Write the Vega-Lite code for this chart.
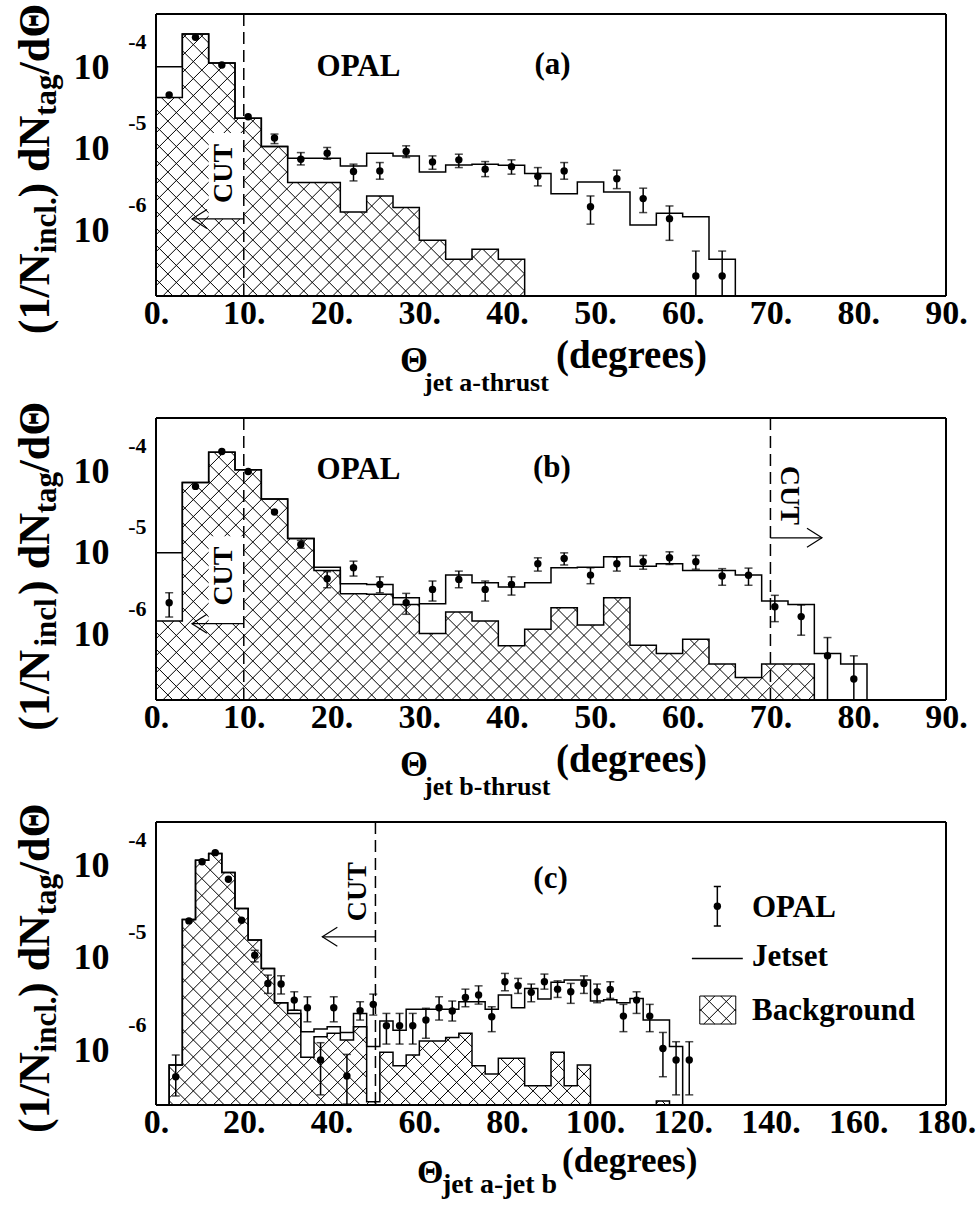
{
"$schema": "https://vega.github.io/schema/vega-lite/v6.json",
"background": "white",
"padding": {"left": 13, "top": 3, "right": 5, "bottom": 5},
"spacing": 122,
"bounds": "flush",
"datasets": {
"a_hist": [
{"edge":0,"jet":1.02e-4,"bkg":4.28e-5},{"edge":3,"jet":2.58e-4,"bkg":2.58e-4},{"edge":6,"jet":1.13e-4,"bkg":1.13e-4},{"edge":9,"jet":2.38e-5,"bkg":2.38e-5},{"edge":12,"jet":1.07e-5,"bkg":1.07e-5},{"edge":15,"jet":7.67e-6,"bkg":3.85e-6},{"edge":18,"jet":7.67e-6,"bkg":3.85e-6},{"edge":21,"jet":6.18e-6,"bkg":1.68e-6},{"edge":24,"jet":8.85e-6,"bkg":2.64e-6},{"edge":27,"jet":8.2e-6,"bkg":1.9e-6},{"edge":30,"jet":5.21e-6,"bkg":7.53e-7},{"edge":33,"jet":6.35e-6,"bkg":4.4e-7},{"edge":36,"jet":6.49e-6,"bkg":5.84e-7},{"edge":39,"jet":6.3e-6,"bkg":4.4e-7},{"edge":42,"jet":4.97e-6,"bkg":0},{"edge":45,"jet":2.82e-6,"bkg":0},{"edge":48,"jet":3.93e-6,"bkg":0},{"edge":51,"jet":2.96e-6,"bkg":0},{"edge":54,"jet":1.16e-6,"bkg":0},{"edge":57,"jet":1.62e-6,"bkg":0},{"edge":60,"jet":1.47e-6,"bkg":0},{"edge":63,"jet":4.4e-7,"bkg":0},{"edge":66,"jet":0,"bkg":0},{"edge":90,"jet":0,"bkg":0}],
"a_pts": [
{"mid":1.5,"val":4.58e-5},{"mid":4.5,"val":2.34e-4},{"mid":7.5,"val":1.07e-4},{"mid":10.5,"val":2.48e-5},{"mid":13.5,"val":1.36e-5,"lo":1.16e-5,"hi":1.52e-5},{"mid":16.5,"val":7.46e-6,"lo":6.35e-6,"hi":9.0e-6},{"mid":19.5,"val":8.85e-6,"lo":7.46e-6,"hi":1.04e-5},{"mid":22.5,"val":5.26e-6,"lo":4.04e-6,"hi":6.49e-6},{"mid":25.5,"val":5.36e-6,"lo":4.24e-6,"hi":6.79e-6},{"mid":28.5,"val":9.27e-6,"lo":7.82e-6,"hi":1.09e-5},{"mid":31.5,"val":6.92e-6,"lo":5.62e-6,"hi":8.2e-6},{"mid":34.5,"val":7.33e-6,"lo":5.89e-6,"hi":8.6e-6},{"mid":37.5,"val":5.62e-6,"lo":4.56e-6,"hi":6.98e-6},{"mid":40.5,"val":6.05e-6,"lo":4.89e-6,"hi":7.33e-6},{"mid":43.5,"val":4.61e-6,"lo":3.51e-6,"hi":5.89e-6},{"mid":46.5,"val":5.36e-6,"lo":4.24e-6,"hi":6.79e-6},{"mid":49.5,"val":1.95e-6,"lo":1.19e-6,"hi":2.64e-6},{"mid":52.5,"val":4.31e-6,"lo":3.25e-6,"hi":5.47e-6},{"mid":55.5,"val":2.45e-6,"lo":1.65e-6,"hi":3.29e-6},{"mid":58.5,"val":1.39e-6,"lo":7.53e-7,"hi":1.99e-6},{"mid":61.5,"val":2.74e-7,"lo":0,"hi":5.56e-7},{"mid":64.5,"val":2.74e-7,"lo":0,"hi":5.56e-7}],
"b_hist": [
{"edge":0,"jet":1.0e-5,"bkg":1.46e-6},{"edge":3,"jet":7.33e-5,"bkg":7.33e-5},{"edge":6,"jet":1.72e-4,"bkg":1.72e-4},{"edge":9,"jet":1.05e-4,"bkg":1.05e-4},{"edge":12,"jet":4.58e-5,"bkg":4.58e-5},{"edge":15,"jet":1.5e-5,"bkg":1.5e-5},{"edge":18,"jet":6.68e-6,"bkg":6.08e-6},{"edge":21,"jet":4.18e-6,"bkg":3.15e-6},{"edge":24,"jet":4.1e-6,"bkg":3.1e-6},{"edge":27,"jet":2.81e-6,"bkg":2.33e-6},{"edge":30,"jet":2.38e-6,"bkg":1.02e-6},{"edge":33,"jet":5.33e-6,"bkg":1.88e-6},{"edge":36,"jet":4.29e-6,"bkg":1.46e-6},{"edge":39,"jet":3.8e-6,"bkg":7.21e-7},{"edge":42,"jet":4.29e-6,"bkg":1.15e-6},{"edge":45,"jet":6.56e-6,"bkg":2.12e-6},{"edge":48,"jet":6.68e-6,"bkg":1.3e-6},{"edge":51,"jet":8.93e-6,"bkg":2.81e-6},{"edge":54,"jet":6.87e-6,"bkg":7.36e-7},{"edge":57,"jet":7.35e-6,"bkg":5.81e-7},{"edge":60,"jet":6.08e-6,"bkg":8.71e-7},{"edge":63,"jet":6.08e-6,"bkg":4.31e-7},{"edge":66,"jet":5.33e-6,"bkg":2.95e-7},{"edge":69,"jet":2.56e-6,"bkg":4.31e-7},{"edge":72,"jet":2.33e-6,"bkg":4.31e-7},{"edge":75,"jet":5.81e-7,"bkg":0},{"edge":78,"jet":4.31e-7,"bkg":0},{"edge":81,"jet":0,"bkg":0},{"edge":90,"jet":0,"bkg":0}],
"b_pts": [
{"mid":1.5,"val":2.44e-6,"lo":1.63e-6,"hi":3.24e-6},{"mid":4.5,"val":6.55e-5},{"mid":7.5,"val":1.76e-4},{"mid":10.5,"val":1.0e-4},{"mid":13.5,"val":3.18e-5},{"mid":16.5,"val":1.27e-5,"lo":1.14e-5,"hi":1.42e-5},{"mid":19.5,"val":4.81e-6,"lo":3.73e-6,"hi":5.86e-6},{"mid":22.5,"val":6.56e-6,"lo":5.19e-6,"hi":7.91e-6},{"mid":25.5,"val":4.1e-6,"lo":3.24e-6,"hi":5.08e-6},{"mid":28.5,"val":2.44e-6,"lo":1.76e-6,"hi":3.18e-6},{"mid":31.5,"val":3.56e-6,"lo":2.56e-6,"hi":4.51e-6},{"mid":34.5,"val":4.72e-6,"lo":3.73e-6,"hi":5.97e-6},{"mid":37.5,"val":3.56e-6,"lo":2.56e-6,"hi":4.51e-6},{"mid":40.5,"val":4.1e-6,"lo":3.03e-6,"hi":5.08e-6},{"mid":43.5,"val":7.35e-6,"lo":5.97e-6,"hi":8.69e-6},{"mid":46.5,"val":8.53e-6,"lo":7.1e-6,"hi":1.0e-5},{"mid":49.5,"val":5.33e-6,"lo":4.18e-6,"hi":6.56e-6},{"mid":52.5,"val":7.35e-6,"lo":5.97e-6,"hi":8.9e-6},{"mid":55.5,"val":7.77e-6,"lo":6.3e-6,"hi":9.3e-6},{"mid":58.5,"val":8.69e-6,"lo":7.2e-6,"hi":1.03e-5},{"mid":61.5,"val":7.77e-6,"lo":6.3e-6,"hi":9.3e-6},{"mid":64.5,"val":5.19e-6,"lo":4.0e-6,"hi":6.4e-6},{"mid":67.5,"val":5.3e-6,"lo":4.0e-6,"hi":6.5e-6},{"mid":70.5,"val":2.18e-6,"lo":1.43e-6,"hi":3.01e-6},{"mid":73.5,"val":1.65e-6,"lo":9.75e-7,"hi":2.29e-6},{"mid":76.5,"val":5.44e-7,"lo":0,"hi":9.12e-7},{"mid":79.5,"val":2.82e-7,"lo":0,"hi":5.44e-7}],
"c_hist": [
{"edge":0,"jet":0,"bkg":0},{"edge":3,"jet":6.89e-7,"bkg":6.89e-7},{"edge":6,"jet":2.59e-5,"bkg":2.59e-5},{"edge":9,"jet":1.13e-4,"bkg":1.13e-4},{"edge":12,"jet":1.34e-4,"bkg":1.34e-4},{"edge":15,"jet":8.34e-5,"bkg":8.34e-5},{"edge":18,"jet":3.4e-5,"bkg":3.4e-5},{"edge":21,"jet":1.55e-5,"bkg":1.55e-5},{"edge":24,"jet":7.64e-6,"bkg":7.64e-6},{"edge":27,"jet":3.25e-6,"bkg":3.25e-6},{"edge":30,"jet":2.7e-6,"bkg":2.49e-6},{"edge":33,"jet":1.58e-6,"bkg":8.34e-7},{"edge":36,"jet":1.69e-6,"bkg":1.39e-6},{"edge":39,"jet":1.79e-6,"bkg":1.52e-6},{"edge":42,"jet":1.55e-6,"bkg":1.28e-6},{"edge":45,"jet":2.49e-6,"bkg":1.79e-6},{"edge":48,"jet":1.09e-6,"bkg":2.76e-7},{"edge":51,"jet":2.06e-6,"bkg":9.44e-7},{"edge":54,"jet":1.64e-6,"bkg":6.76e-7},{"edge":57,"jet":2.77e-6,"bkg":8.83e-7},{"edge":60,"jet":2.77e-6,"bkg":1.25e-6},{"edge":63,"jet":2.77e-6,"bkg":1.25e-6},{"edge":66,"jet":2.77e-6,"bkg":1.37e-6},{"edge":69,"jet":3.33e-6,"bkg":1.52e-6},{"edge":72,"jet":3.33e-6,"bkg":6.76e-7},{"edge":75,"jet":2.77e-6,"bkg":5.5e-7},{"edge":78,"jet":3.94e-6,"bkg":8.13e-7},{"edge":81,"jet":2.87e-6,"bkg":8.13e-7},{"edge":84,"jet":4.63e-6,"bkg":4.11e-7},{"edge":87,"jet":3.56e-6,"bkg":4.11e-7},{"edge":90,"jet":5.4e-6,"bkg":9.44e-7},{"edge":93,"jet":5.71e-6,"bkg":4.11e-7},{"edge":96,"jet":5.71e-6,"bkg":6.89e-7},{"edge":99,"jet":3.39e-6,"bkg":0},{"edge":102,"jet":3.5e-6,"bkg":0},{"edge":105,"jet":3.25e-6,"bkg":0},{"edge":108,"jet":3.62e-6,"bkg":0},{"edge":111,"jet":2.11e-6,"bkg":0},{"edge":114,"jet":2.11e-6,"bkg":2.8e-7},{"edge":117,"jet":1.09e-6,"bkg":0},{"edge":120,"jet":0,"bkg":0},{"edge":180,"jet":0,"bkg":0}],
"c_pts": [
{"mid":4.5,"val":5.14e-7,"lo":3.18e-7,"hi":8.83e-7},{"mid":7.5,"val":2.5e-5},{"mid":10.5,"val":1.09e-4},{"mid":13.5,"val":1.37e-4},{"mid":16.5,"val":7.06e-5},{"mid":19.5,"val":2.54e-5},{"mid":22.5,"val":1.06e-5,"lo":9.0e-6,"hi":1.2e-5},{"mid":25.5,"val":5.26e-6,"lo":4.1e-6,"hi":6.47e-6},{"mid":28.5,"val":5.18e-6,"lo":4.03e-6,"hi":6.35e-6},{"mid":31.5,"val":3.47e-6,"lo":2.7e-6,"hi":4.27e-6},{"mid":34.5,"val":2.87e-6,"lo":2.02e-6,"hi":3.77e-6},{"mid":37.5,"val":7.8e-7,"lo":3.27e-7,"hi":1.2e-6},{"mid":40.5,"val":2.87e-6,"lo":2.02e-6,"hi":3.77e-6},{"mid":43.5,"val":5.23e-7,"lo":2.6e-7,"hi":8.97e-7},{"mid":46.5,"val":2.66e-6,"lo":2.11e-6,"hi":3.33e-6},{"mid":49.5,"val":3.12e-6,"lo":2.39e-6,"hi":4.03e-6},{"mid":52.5,"val":1.83e-6,"lo":1.16e-6,"hi":2.49e-6},{"mid":55.5,"val":1.83e-6,"lo":1.16e-6,"hi":2.49e-6},{"mid":58.5,"val":1.83e-6,"lo":1.16e-6,"hi":2.49e-6},{"mid":61.5,"val":2.11e-6,"lo":1.34e-6,"hi":2.83e-6},{"mid":64.5,"val":2.87e-6,"lo":2.11e-6,"hi":3.77e-6},{"mid":67.5,"val":2.64e-6,"lo":2.06e-6,"hi":3.39e-6},{"mid":70.5,"val":3.71e-6,"lo":2.94e-6,"hi":4.56e-6},{"mid":73.5,"val":3.94e-6,"lo":3.14e-6,"hi":4.95e-6},{"mid":76.5,"val":2.29e-6,"lo":1.58e-6,"hi":2.94e-6},{"mid":79.5,"val":5.48e-6,"lo":4.38e-6,"hi":6.75e-6},{"mid":82.5,"val":4.97e-6,"lo":4.1e-6,"hi":5.96e-6},{"mid":85.5,"val":4.21e-6,"lo":3.33e-6,"hi":5.18e-6},{"mid":88.5,"val":5.48e-6,"lo":4.56e-6,"hi":6.64e-6},{"mid":91.5,"val":4.56e-6,"lo":3.71e-6,"hi":5.61e-6},{"mid":94.5,"val":4.27e-6,"lo":3.2e-6,"hi":5.26e-6},{"mid":97.5,"val":5.26e-6,"lo":4.1e-6,"hi":6.35e-6},{"mid":100.5,"val":4.27e-6,"lo":3.25e-6,"hi":5.18e-6},{"mid":103.5,"val":4.52e-6,"lo":3.62e-6,"hi":5.48e-6},{"mid":106.5,"val":2.33e-6,"lo":1.58e-6,"hi":3.12e-6},{"mid":109.5,"val":3.47e-6,"lo":2.49e-6,"hi":4.27e-6},{"mid":112.5,"val":2.33e-6,"lo":1.58e-6,"hi":3.12e-6},{"mid":115.5,"val":1.04e-6,"lo":5.14e-7,"hi":1.55e-6},{"mid":118.5,"val":7.8e-7,"lo":3.27e-7,"hi":1.23e-6},{"mid":121.5,"val":7.8e-7,"lo":3.27e-7,"hi":1.23e-6}]
},
"vconcat": [
{
"width": 790, "height": 282,
"resolve": {"axis": {"x": "independent", "y": "independent"}},
"layer": [
{"data": {"values": [{}]}, "mark": {"type": "point", "style": "hatch", "size": 624100, "filled": false, "color": "black", "strokeWidth": 1, "opacity": 1, "clip": true},
 "encoding": {"x": {"datum": 45, "type": "quantitative", "scale": {"domain": [0, 90], "nice": false, "zero": false}, "axis": {"orient": "bottom", "values": [0,10,20,30,40,50,60,70,80,90], "labelExpr": "datum.value + '.'", "ticks": false, "tickSize": 0, "domain": false, "labelFontSize": 34, "labelPadding": 0, "title": null}},
  "y": {"datum": 8.4e-6, "type": "quantitative", "scale": {"type": "log", "domain": [1.56e-7, 4.53e-4], "nice": false, "clamp": true}, "axis": {"orient": "left", "values": [1e-6,1e-5,1e-4], "labelExpr": "'10'", "ticks": false, "tickSize": 0, "domain": false, "labelFontSize": 36, "labelPadding": 47, "title": null}}}},
{"data": {"name": "a_hist"}, "mark": {"type": "area", "interpolate": "step-after", "color": "white", "opacity": 1, "clip": true},
 "encoding": {"x": {"field": "edge", "type": "quantitative", "axis": null}, "y": {"field": "bkg", "type": "quantitative", "axis": null}, "y2": {"datum": 1}}},
{"data": {"values": [{}]}, "mark": {"type": "rect", "color": "white", "clip": true},
 "encoding": {"x": {"datum": 6.0, "type": "quantitative", "axis": null}, "x2": {"datum": 10}, "y": {"datum": 1.57e-5, "type": "quantitative", "axis": null}, "y2": {"datum": 1.38e-6}}},
{"data": {"name": "a_hist"}, "mark": {"type": "line", "interpolate": "step-after", "color": "black", "strokeWidth": 1.5, "clip": true},
 "encoding": {"x": {"field": "edge", "type": "quantitative", "axis": null}, "y": {"field": "bkg", "type": "quantitative", "axis": null}}},
{"data": {"name": "a_hist"}, "mark": {"type": "line", "interpolate": "step-after", "color": "black", "strokeWidth": 1.5, "clip": true},
 "encoding": {"x": {"field": "edge", "type": "quantitative", "axis": null}, "y": {"field": "jet", "type": "quantitative", "axis": null}}},
{"data": {"values": [{}]}, "mark": {"type": "rule", "strokeDash": [12, 6], "strokeWidth": 1.5, "color": "black"},
 "encoding": {"x": {"datum": 10, "type": "quantitative", "axis": null}}},
{"data": {"name": "a_pts"}, "mark": {"type": "errorbar", "ticks": true, "size": 8, "thickness": 1.5, "color": "black"},
 "encoding": {"x": {"field": "mid", "type": "quantitative", "axis": null}, "y": {"field": "lo", "type": "quantitative", "axis": null}, "y2": {"field": "hi"}}},
{"data": {"name": "a_pts"}, "mark": {"type": "point", "filled": true, "size": 55, "color": "black", "opacity": 1},
 "encoding": {"x": {"field": "mid", "type": "quantitative", "axis": null},
  "y": {"field": "val", "type": "quantitative", "axis": {"orient": "left", "values": [1e-6,1e-5,1e-4], "labelExpr": "'-' + round(-log(datum.value)/LN10)", "ticks": false, "tickSize": 0, "domain": false, "labelFontSize": 22, "labelPadding": 10, "labelOffset": -26, "title": null}}}},
{"data": {"values": [{}]}, "mark": {"type": "rule", "color": "black", "strokeWidth": 2}, "encoding": {"y": {"datum": 1.56e-7, "type": "quantitative", "axis": null}}},
{"data": {"values": [{}]}, "mark": {"type": "rule", "color": "black", "strokeWidth": 2}, "encoding": {"y": {"datum": 4.53e-4, "type": "quantitative", "axis": null}}},
{"data": {"values": [{}]}, "mark": {"type": "rule", "color": "black", "strokeWidth": 2}, "encoding": {"x": {"datum": 0, "type": "quantitative", "axis": null}}},
{"data": {"values": [{}]}, "mark": {"type": "rule", "color": "black", "strokeWidth": 2}, "encoding": {"x": {"datum": 90, "type": "quantitative", "axis": null}}},
{"data": {"values": [{}]}, "mark": {"type": "text", "text": "OPAL", "fontSize": 31, "align": "center", "baseline": "alphabetic"},
 "encoding": {"x": {"datum": 23.07, "type": "quantitative", "axis": null}, "y": {"datum": 7.91e-5, "type": "quantitative", "axis": null}}},
{"data": {"values": [{}]}, "mark": {"type": "text", "text": "(a)", "fontSize": 31, "align": "center", "baseline": "alphabetic"},
 "encoding": {"x": {"datum": 45.17, "type": "quantitative", "axis": null}, "y": {"datum": 8.37e-5, "type": "quantitative", "axis": null}}},
{"data": {"values": [{}]}, "mark": {"type": "text", "text": "CUT", "fontSize": 28, "angle": 270, "align": "center", "baseline": "alphabetic"},
 "encoding": {"x": {"datum": 8.66, "type": "quantitative", "axis": null}, "y": {"datum": 5.0e-6, "type": "quantitative", "axis": null}}},
{"data": {"values": [{}]}, "mark": {"type": "rule", "strokeWidth": 1.2, "color": "black"},
 "encoding": {"x": {"datum": 4.1, "type": "quantitative", "axis": null}, "x2": {"datum": 10}, "y": {"datum": 1.38e-6, "type": "quantitative", "axis": null}}},
{"data": {"values": [{}]}, "mark": {"type": "point", "shape": "M2,-1.267L0,0L2,1.267", "size": 225, "filled": false, "color": "black", "strokeWidth": 1.2, "opacity": 1},
 "encoding": {"x": {"datum": 4.1, "type": "quantitative", "axis": null}, "y": {"datum": 1.38e-6, "type": "quantitative", "axis": null}}},
{"data": {"values": [{}]}, "mark": {"type": "text", "text": "Θ", "fontSize": 36, "align": "left", "baseline": "alphabetic", "dy": 76},
 "encoding": {"x": {"datum": 27.8, "type": "quantitative", "axis": null}, "y": {"datum": 1.56e-7, "type": "quantitative", "axis": null}}},
{"data": {"values": [{}]}, "mark": {"type": "text", "text": "jet a-thrust", "fontSize": 26, "align": "left", "baseline": "alphabetic", "dy": 95},
 "encoding": {"x": {"datum": 30.53, "type": "quantitative", "axis": null}, "y": {"datum": 1.56e-7, "type": "quantitative", "axis": null}}},
{"data": {"values": [{}]}, "mark": {"type": "text", "text": "(degrees)", "fontSize": 39, "align": "left", "baseline": "alphabetic", "dy": 72},
 "encoding": {"x": {"datum": 45.57, "type": "quantitative", "axis": null}, "y": {"datum": 1.56e-7, "type": "quantitative", "axis": null}}},
{"data": {"values": [{}]}, "mark": {"type": "text", "text": "(1/N", "fontSize": 44, "angle": 270, "align": "center", "baseline": "alphabetic"},
 "encoding": {"x": {"datum": -12.19, "type": "quantitative", "axis": null}, "y": {"datum": 1.66e-7, "type": "quantitative", "axis": null}}},
{"data": {"values": [{}]}, "mark": {"type": "text", "text": "incl.", "fontSize": 31, "angle": 270, "align": "center", "baseline": "alphabetic"},
 "encoding": {"x": {"datum": -11.4, "type": "quantitative", "axis": null}, "y": {"datum": 1.15e-6, "type": "quantitative", "axis": null}}},
{"data": {"values": [{}]}, "mark": {"type": "text", "text": ") dN", "fontSize": 44, "angle": 270, "align": "center", "baseline": "alphabetic"},
 "encoding": {"x": {"datum": -12.19, "type": "quantitative", "axis": null}, "y": {"datum": 8.04e-6, "type": "quantitative", "axis": null}}},
{"data": {"values": [{}]}, "mark": {"type": "text", "text": "tag", "fontSize": 31, "angle": 270, "align": "center", "baseline": "alphabetic"},
 "encoding": {"x": {"datum": -11.4, "type": "quantitative", "axis": null}, "y": {"datum": 4.58e-5, "type": "quantitative", "axis": null}}},
{"data": {"values": [{}]}, "mark": {"type": "text", "text": "/dΘ", "fontSize": 44, "angle": 270, "align": "center", "baseline": "alphabetic"},
 "encoding": {"x": {"datum": -12.19, "type": "quantitative", "axis": null}, "y": {"datum": 2.23e-4, "type": "quantitative", "axis": null}}}
]
},
{
"width": 790, "height": 282,
"resolve": {"axis": {"x": "independent", "y": "independent"}},
"layer": [
{"data": {"values": [{}]}, "mark": {"type": "point", "style": "hatch", "size": 624100, "filled": false, "color": "black", "strokeWidth": 1, "opacity": 1, "clip": true},
 "encoding": {"x": {"datum": 45, "type": "quantitative", "scale": {"domain": [0, 90], "nice": false, "zero": false}, "axis": {"orient": "bottom", "values": [0,10,20,30,40,50,60,70,80,90], "labelExpr": "datum.value + '.'", "ticks": false, "tickSize": 0, "domain": false, "labelFontSize": 34, "labelPadding": 0, "title": null}},
  "y": {"datum": 8.4e-6, "type": "quantitative", "scale": {"type": "log", "domain": [1.56e-7, 4.53e-4], "nice": false, "clamp": true}, "axis": {"orient": "left", "values": [1e-6,1e-5,1e-4], "labelExpr": "'10'", "ticks": false, "tickSize": 0, "domain": false, "labelFontSize": 36, "labelPadding": 47, "title": null}}}},
{"data": {"name": "b_hist"}, "mark": {"type": "area", "interpolate": "step-after", "color": "white", "opacity": 1, "clip": true},
 "encoding": {"x": {"field": "edge", "type": "quantitative", "axis": null}, "y": {"field": "bkg", "type": "quantitative", "axis": null}, "y2": {"datum": 1}}},
{"data": {"values": [{}]}, "mark": {"type": "rect", "color": "white", "clip": true},
 "encoding": {"x": {"datum": 6.0, "type": "quantitative", "axis": null}, "x2": {"datum": 10}, "y": {"datum": 1.6e-5, "type": "quantitative", "axis": null}, "y2": {"datum": 1.35e-6}}},
{"data": {"name": "b_hist"}, "mark": {"type": "line", "interpolate": "step-after", "color": "black", "strokeWidth": 1.5, "clip": true},
 "encoding": {"x": {"field": "edge", "type": "quantitative", "axis": null}, "y": {"field": "bkg", "type": "quantitative", "axis": null}}},
{"data": {"name": "b_hist"}, "mark": {"type": "line", "interpolate": "step-after", "color": "black", "strokeWidth": 1.5, "clip": true},
 "encoding": {"x": {"field": "edge", "type": "quantitative", "axis": null}, "y": {"field": "jet", "type": "quantitative", "axis": null}}},
{"data": {"values": [{}]}, "mark": {"type": "rule", "strokeDash": [12, 6], "strokeWidth": 1.5, "color": "black"},
 "encoding": {"x": {"datum": 10, "type": "quantitative", "axis": null}}},
{"data": {"values": [{}]}, "mark": {"type": "rule", "strokeDash": [12, 6], "strokeWidth": 1.5, "color": "black"},
 "encoding": {"x": {"datum": 70, "type": "quantitative", "axis": null}}},
{"data": {"name": "b_pts"}, "mark": {"type": "errorbar", "ticks": true, "size": 8, "thickness": 1.5, "color": "black"},
 "encoding": {"x": {"field": "mid", "type": "quantitative", "axis": null}, "y": {"field": "lo", "type": "quantitative", "axis": null}, "y2": {"field": "hi"}}},
{"data": {"name": "b_pts"}, "mark": {"type": "point", "filled": true, "size": 55, "color": "black", "opacity": 1},
 "encoding": {"x": {"field": "mid", "type": "quantitative", "axis": null},
  "y": {"field": "val", "type": "quantitative", "axis": {"orient": "left", "values": [1e-6,1e-5,1e-4], "labelExpr": "'-' + round(-log(datum.value)/LN10)", "ticks": false, "tickSize": 0, "domain": false, "labelFontSize": 22, "labelPadding": 10, "labelOffset": -26, "title": null}}}},
{"data": {"values": [{}]}, "mark": {"type": "rule", "color": "black", "strokeWidth": 2}, "encoding": {"y": {"datum": 1.56e-7, "type": "quantitative", "axis": null}}},
{"data": {"values": [{}]}, "mark": {"type": "rule", "color": "black", "strokeWidth": 2}, "encoding": {"y": {"datum": 4.53e-4, "type": "quantitative", "axis": null}}},
{"data": {"values": [{}]}, "mark": {"type": "rule", "color": "black", "strokeWidth": 2}, "encoding": {"x": {"datum": 0, "type": "quantitative", "axis": null}}},
{"data": {"values": [{}]}, "mark": {"type": "rule", "color": "black", "strokeWidth": 2}, "encoding": {"x": {"datum": 90, "type": "quantitative", "axis": null}}},
{"data": {"values": [{}]}, "mark": {"type": "text", "text": "OPAL", "fontSize": 31, "align": "center", "baseline": "alphabetic"},
 "encoding": {"x": {"datum": 23.07, "type": "quantitative", "axis": null}, "y": {"datum": 7.98e-5, "type": "quantitative", "axis": null}}},
{"data": {"values": [{}]}, "mark": {"type": "text", "text": "(b)", "fontSize": 31, "align": "center", "baseline": "alphabetic"},
 "encoding": {"x": {"datum": 45.1, "type": "quantitative", "axis": null}, "y": {"datum": 8.45e-5, "type": "quantitative", "axis": null}}},
{"data": {"values": [{}]}, "mark": {"type": "text", "text": "CUT", "fontSize": 28, "angle": 270, "align": "center", "baseline": "alphabetic"},
 "encoding": {"x": {"datum": 8.66, "type": "quantitative", "axis": null}, "y": {"datum": 5.19e-6, "type": "quantitative", "axis": null}}},
{"data": {"values": [{}]}, "mark": {"type": "rule", "strokeWidth": 1.2, "color": "black"},
 "encoding": {"x": {"datum": 4.1, "type": "quantitative", "axis": null}, "x2": {"datum": 10}, "y": {"datum": 1.35e-6, "type": "quantitative", "axis": null}}},
{"data": {"values": [{}]}, "mark": {"type": "point", "shape": "M2,-1.267L0,0L2,1.267", "size": 225, "filled": false, "color": "black", "strokeWidth": 1.2, "opacity": 1},
 "encoding": {"x": {"datum": 4.1, "type": "quantitative", "axis": null}, "y": {"datum": 1.35e-6, "type": "quantitative", "axis": null}}},
{"data": {"values": [{}]}, "mark": {"type": "text", "text": "CUT", "fontSize": 28, "angle": 90, "align": "center", "baseline": "alphabetic"},
 "encoding": {"x": {"datum": 71.2, "type": "quantitative", "axis": null}, "y": {"datum": 5.08e-5, "type": "quantitative", "axis": null}}},
{"data": {"values": [{}]}, "mark": {"type": "rule", "strokeWidth": 1.2, "color": "black"},
 "encoding": {"x": {"datum": 70, "type": "quantitative", "axis": null}, "x2": {"datum": 75.87}, "y": {"datum": 1.53e-5, "type": "quantitative", "axis": null}}},
{"data": {"values": [{}]}, "mark": {"type": "point", "shape": "M-2,-1.267L0,0L-2,1.267", "size": 225, "filled": false, "color": "black", "strokeWidth": 1.2, "opacity": 1},
 "encoding": {"x": {"datum": 75.87, "type": "quantitative", "axis": null}, "y": {"datum": 1.53e-5, "type": "quantitative", "axis": null}}},
{"data": {"values": [{}]}, "mark": {"type": "text", "text": "Θ", "fontSize": 36, "align": "left", "baseline": "alphabetic", "dy": 76},
 "encoding": {"x": {"datum": 27.8, "type": "quantitative", "axis": null}, "y": {"datum": 1.56e-7, "type": "quantitative", "axis": null}}},
{"data": {"values": [{}]}, "mark": {"type": "text", "text": "jet b-thrust", "fontSize": 26, "align": "left", "baseline": "alphabetic", "dy": 95},
 "encoding": {"x": {"datum": 30.53, "type": "quantitative", "axis": null}, "y": {"datum": 1.56e-7, "type": "quantitative", "axis": null}}},
{"data": {"values": [{}]}, "mark": {"type": "text", "text": "(degrees)", "fontSize": 39, "align": "left", "baseline": "alphabetic", "dy": 72},
 "encoding": {"x": {"datum": 45.57, "type": "quantitative", "axis": null}, "y": {"datum": 1.56e-7, "type": "quantitative", "axis": null}}},
{"data": {"values": [{}]}, "mark": {"type": "text", "text": "(1/N", "fontSize": 44, "angle": 270, "align": "center", "baseline": "alphabetic"},
 "encoding": {"x": {"datum": -12.19, "type": "quantitative", "axis": null}, "y": {"datum": 2.05e-7, "type": "quantitative", "axis": null}}},
{"data": {"values": [{}]}, "mark": {"type": "text", "text": "incl", "fontSize": 31, "angle": 270, "align": "center", "baseline": "alphabetic"},
 "encoding": {"x": {"datum": -11.4, "type": "quantitative", "axis": null}, "y": {"datum": 1.4e-6, "type": "quantitative", "axis": null}}},
{"data": {"values": [{}]}, "mark": {"type": "text", "text": ") dN", "fontSize": 44, "angle": 270, "align": "center", "baseline": "alphabetic"},
 "encoding": {"x": {"datum": -12.19, "type": "quantitative", "axis": null}, "y": {"datum": 9.7e-6, "type": "quantitative", "axis": null}}},
{"data": {"values": [{}]}, "mark": {"type": "text", "text": "tag", "fontSize": 31, "angle": 270, "align": "center", "baseline": "alphabetic"},
 "encoding": {"x": {"datum": -11.4, "type": "quantitative", "axis": null}, "y": {"datum": 5.48e-5, "type": "quantitative", "axis": null}}},
{"data": {"values": [{}]}, "mark": {"type": "text", "text": "/dΘ", "fontSize": 44, "angle": 270, "align": "center", "baseline": "alphabetic"},
 "encoding": {"x": {"datum": -12.19, "type": "quantitative", "axis": null}, "y": {"datum": 2.65e-4, "type": "quantitative", "axis": null}}}
]
},
{
"width": 790, "height": 283,
"resolve": {"axis": {"x": "independent", "y": "independent"}},
"layer": [
{"data": {"values": [{}]}, "mark": {"type": "point", "style": "hatch", "size": 624100, "filled": false, "color": "black", "strokeWidth": 1, "opacity": 1, "clip": true},
 "encoding": {"x": {"datum": 90, "type": "quantitative", "scale": {"domain": [0, 180], "nice": false, "zero": false}, "axis": {"orient": "bottom", "values": [0,20,40,60,80,100,120,140,160,180], "labelExpr": "datum.value + '.'", "ticks": false, "tickSize": 0, "domain": false, "labelFontSize": 34, "labelPadding": 0, "title": null}},
  "y": {"datum": 8.64e-6, "type": "quantitative", "scale": {"type": "log", "domain": [2.54e-7, 2.94e-4], "nice": false, "clamp": true}, "axis": {"orient": "left", "values": [1e-6,1e-5,1e-4], "labelExpr": "'10'", "ticks": false, "tickSize": 0, "domain": false, "labelFontSize": 36, "labelPadding": 47, "title": null}}}},
{"data": {"name": "c_hist"}, "mark": {"type": "area", "interpolate": "step-after", "color": "white", "opacity": 1, "clip": true},
 "encoding": {"x": {"field": "edge", "type": "quantitative", "axis": null}, "y": {"field": "bkg", "type": "quantitative", "axis": null}, "y2": {"datum": 1}}},
{"data": {"name": "c_hist"}, "mark": {"type": "line", "interpolate": "step-after", "color": "black", "strokeWidth": 1.5, "clip": true},
 "encoding": {"x": {"field": "edge", "type": "quantitative", "axis": null}, "y": {"field": "bkg", "type": "quantitative", "axis": null}}},
{"data": {"name": "c_hist"}, "mark": {"type": "line", "interpolate": "step-after", "color": "black", "strokeWidth": 1.5, "clip": true},
 "encoding": {"x": {"field": "edge", "type": "quantitative", "axis": null}, "y": {"field": "jet", "type": "quantitative", "axis": null}}},
{"data": {"values": [{}]}, "mark": {"type": "rule", "strokeDash": [12, 6], "strokeWidth": 1.5, "color": "black"},
 "encoding": {"x": {"datum": 50, "type": "quantitative", "axis": null}}},
{"data": {"name": "c_pts"}, "mark": {"type": "errorbar", "ticks": true, "size": 8, "thickness": 1.5, "color": "black"},
 "encoding": {"x": {"field": "mid", "type": "quantitative", "axis": null}, "y": {"field": "lo", "type": "quantitative", "axis": null}, "y2": {"field": "hi"}}},
{"data": {"name": "c_pts"}, "mark": {"type": "point", "filled": true, "size": 55, "color": "black", "opacity": 1},
 "encoding": {"x": {"field": "mid", "type": "quantitative", "axis": null},
  "y": {"field": "val", "type": "quantitative", "axis": {"orient": "left", "values": [1e-6,1e-5,1e-4], "labelExpr": "'-' + round(-log(datum.value)/LN10)", "ticks": false, "tickSize": 0, "domain": false, "labelFontSize": 22, "labelPadding": 10, "labelOffset": -26, "title": null}}}},
{"data": {"values": [{}]}, "mark": {"type": "rule", "color": "black", "strokeWidth": 2}, "encoding": {"y": {"datum": 2.54e-7, "type": "quantitative", "axis": null}}},
{"data": {"values": [{}]}, "mark": {"type": "rule", "color": "black", "strokeWidth": 2}, "encoding": {"y": {"datum": 2.94e-4, "type": "quantitative", "axis": null}}},
{"data": {"values": [{}]}, "mark": {"type": "rule", "color": "black", "strokeWidth": 2}, "encoding": {"x": {"datum": 0, "type": "quantitative", "axis": null}}},
{"data": {"values": [{}]}, "mark": {"type": "rule", "color": "black", "strokeWidth": 2}, "encoding": {"x": {"datum": 180, "type": "quantitative", "axis": null}}},
{"data": {"values": [{}]}, "mark": {"type": "text", "text": "(c)", "fontSize": 31, "align": "center", "baseline": "alphabetic"},
 "encoding": {"x": {"datum": 89.9, "type": "quantitative", "axis": null}, "y": {"datum": 5.64e-5, "type": "quantitative", "axis": null}}},
{"data": {"values": [{}]}, "mark": {"type": "text", "text": "CUT", "fontSize": 28, "angle": 270, "align": "center", "baseline": "alphabetic"},
 "encoding": {"x": {"datum": 47.85, "type": "quantitative", "axis": null}, "y": {"datum": 5.18e-5, "type": "quantitative", "axis": null}}},
{"data": {"values": [{}]}, "mark": {"type": "rule", "strokeWidth": 1.2, "color": "black"},
 "encoding": {"x": {"datum": 37.9, "type": "quantitative", "axis": null}, "x2": {"datum": 50}, "y": {"datum": 1.68e-5, "type": "quantitative", "axis": null}}},
{"data": {"values": [{}]}, "mark": {"type": "point", "shape": "M2,-1.267L0,0L2,1.267", "size": 225, "filled": false, "color": "black", "strokeWidth": 1.2, "opacity": 1},
 "encoding": {"x": {"datum": 37.9, "type": "quantitative", "axis": null}, "y": {"datum": 1.68e-5, "type": "quantitative", "axis": null}}},
{"data": {"values": [{}]}, "mark": {"type": "point", "shape": "M0,-1V1M-0.18,-1H0.18M-0.18,1H0.18", "size": 1552, "filled": false, "color": "black", "strokeWidth": 1.5, "opacity": 1},
 "encoding": {"x": {"datum": 127.9, "type": "quantitative", "axis": null}, "y": {"datum": 3.6e-5, "type": "quantitative", "axis": null}}},
{"data": {"values": [{}]}, "mark": {"type": "point", "filled": true, "size": 55, "color": "black", "opacity": 1},
 "encoding": {"x": {"datum": 127.9, "type": "quantitative", "axis": null}, "y": {"datum": 3.6e-5, "type": "quantitative", "axis": null}}},
{"data": {"values": [{}]}, "mark": {"type": "rule", "strokeWidth": 1.5, "color": "black"},
 "encoding": {"x": {"datum": 122.1, "type": "quantitative", "axis": null}, "x2": {"datum": 133.7}, "y": {"datum": 9.8e-6, "type": "quantitative", "axis": null}}},
{"data": {"values": [{}]}, "mark": {"type": "point", "shape": "M-1,-0.778H1V0.778H-1Z M-0.778,0.778L0.778,-0.778 M0.166,0.778L1,-0.056 M-1,0.056L-0.166,-0.778 M0.778,0.778L-0.778,-0.778 M-0.166,0.778L-1,-0.056 M1,0.056L0.166,-0.778", "size": 1296, "filled": false, "color": "black", "strokeWidth": 1, "opacity": 1},
 "encoding": {"x": {"datum": 128.0, "type": "quantitative", "axis": null}, "y": {"datum": 2.71e-6, "type": "quantitative", "axis": null}}},
{"data": {"values": [{}]}, "mark": {"type": "text", "text": "OPAL", "fontSize": 31, "align": "left", "baseline": "alphabetic"},
 "encoding": {"x": {"datum": 135.8, "type": "quantitative", "axis": null}, "y": {"datum": 2.74e-5, "type": "quantitative", "axis": null}}},
{"data": {"values": [{}]}, "mark": {"type": "text", "text": "Jetset", "fontSize": 31, "align": "left", "baseline": "alphabetic"},
 "encoding": {"x": {"datum": 135.8, "type": "quantitative", "axis": null}, "y": {"datum": 8.09e-6, "type": "quantitative", "axis": null}}},
{"data": {"values": [{}]}, "mark": {"type": "text", "text": "Background", "fontSize": 31, "align": "left", "baseline": "alphabetic"},
 "encoding": {"x": {"datum": 135.8, "type": "quantitative", "axis": null}, "y": {"datum": 2.11e-6, "type": "quantitative", "axis": null}}},
{"data": {"values": [{}]}, "mark": {"type": "text", "text": "Θ", "fontSize": 34, "align": "left", "baseline": "alphabetic", "dy": 78},
 "encoding": {"x": {"datum": 59.47, "type": "quantitative", "axis": null}, "y": {"datum": 2.54e-7, "type": "quantitative", "axis": null}}},
{"data": {"values": [{}]}, "mark": {"type": "text", "text": "jet a-jet b", "fontSize": 28, "align": "left", "baseline": "alphabetic", "dy": 88},
 "encoding": {"x": {"datum": 65.16, "type": "quantitative", "axis": null}, "y": {"datum": 2.54e-7, "type": "quantitative", "axis": null}}},
{"data": {"values": [{}]}, "mark": {"type": "text", "text": "(degrees)", "fontSize": 35, "align": "left", "baseline": "alphabetic", "dy": 67},
 "encoding": {"x": {"datum": 92.5, "type": "quantitative", "axis": null}, "y": {"datum": 2.54e-7, "type": "quantitative", "axis": null}}},
{"data": {"values": [{}]}, "mark": {"type": "text", "text": "(1/N", "fontSize": 44, "angle": 270, "align": "center", "baseline": "alphabetic"},
 "encoding": {"x": {"datum": -24.38, "type": "quantitative", "axis": null}, "y": {"datum": 3.46e-7, "type": "quantitative", "axis": null}}},
{"data": {"values": [{}]}, "mark": {"type": "text", "text": "incl.", "fontSize": 31, "angle": 270, "align": "center", "baseline": "alphabetic"},
 "encoding": {"x": {"datum": -22.78, "type": "quantitative", "axis": null}, "y": {"datum": 1.89e-6, "type": "quantitative", "axis": null}}},
{"data": {"values": [{}]}, "mark": {"type": "text", "text": ") dN", "fontSize": 44, "angle": 270, "align": "center", "baseline": "alphabetic"},
 "encoding": {"x": {"datum": -24.38, "type": "quantitative", "axis": null}, "y": {"datum": 1.04e-5, "type": "quantitative", "axis": null}}},
{"data": {"values": [{}]}, "mark": {"type": "text", "text": "tag", "fontSize": 31, "angle": 270, "align": "center", "baseline": "alphabetic"},
 "encoding": {"x": {"datum": -22.78, "type": "quantitative", "axis": null}, "y": {"datum": 4.82e-5, "type": "quantitative", "axis": null}}},
{"data": {"values": [{}]}, "mark": {"type": "text", "text": "/dΘ", "fontSize": 44, "angle": 270, "align": "center", "baseline": "alphabetic"},
 "encoding": {"x": {"datum": -24.38, "type": "quantitative", "axis": null}, "y": {"datum": 1.94e-4, "type": "quantitative", "axis": null}}}
]
}
],
"config": {
 "view": {"stroke": null},
 "axis": {"grid": false, "labelFont": "Liberation Serif", "labelFontWeight": "bold", "labelColor": "black", "labelOverlap": false, "labelFlush": false},
 "text": {"font": "Liberation Serif", "fontWeight": "bold", "color": "black"},
 "style": {"hatch": {"shape": "M-1,-0.4l-0.8,0.8m0.843,-0.8l-0.8,0.8m0.843,-0.8l-0.8,0.8m0.843,-0.8l-0.8,0.8m0.843,-0.8l-0.8,0.8m0.843,-0.8l-0.8,0.8m0.843,-0.8l-0.8,0.8m0.843,-0.8l-0.8,0.8m0.843,-0.8l-0.8,0.8m0.843,-0.8l-0.8,0.8m0.843,-0.8l-0.8,0.8m0.843,-0.8l-0.8,0.8m0.843,-0.8l-0.8,0.8m0.843,-0.8l-0.8,0.8m0.843,-0.8l-0.8,0.8m0.843,-0.8l-0.8,0.8m0.843,-0.8l-0.8,0.8m0.843,-0.8l-0.8,0.8m0.843,-0.8l-0.8,0.8m0.843,-0.8l-0.8,0.8m0.843,-0.8l-0.8,0.8m0.843,-0.8l-0.8,0.8m0.843,-0.8l-0.8,0.8m0.843,-0.8l-0.8,0.8m0.843,-0.8l-0.8,0.8m0.843,-0.8l-0.8,0.8m0.843,-0.8l-0.8,0.8m0.843,-0.8l-0.8,0.8m0.843,-0.8l-0.8,0.8m0.843,-0.8l-0.8,0.8m0.843,-0.8l-0.8,0.8m0.843,-0.8l-0.8,0.8m0.843,-0.8l-0.8,0.8m0.843,-0.8l-0.8,0.8m0.843,-0.8l-0.8,0.8m0.843,-0.8l-0.8,0.8m0.843,-0.8l-0.8,0.8m0.843,-0.8l-0.8,0.8m0.843,-0.8l-0.8,0.8m0.843,-0.8l-0.8,0.8m0.843,-0.8l-0.8,0.8m0.843,-0.8l-0.8,0.8m0.843,-0.8l-0.8,0.8m0.843,-0.8l-0.8,0.8m0.843,-0.8l-0.8,0.8m0.843,-0.8l-0.8,0.8m0.843,-0.8l-0.8,0.8m0.843,-0.8l-0.8,0.8m0.843,-0.8l-0.8,0.8m0.843,-0.8l-0.8,0.8m0.843,-0.8l-0.8,0.8m0.843,-0.8l-0.8,0.8m0.843,-0.8l-0.8,0.8m0.843,-0.8l-0.8,0.8m0.843,-0.8l-0.8,0.8m0.843,-0.8l-0.8,0.8m0.843,-0.8l-0.8,0.8m0.843,-0.8l-0.8,0.8m0.843,-0.8l-0.8,0.8m0.843,-0.8l-0.8,0.8m0.843,-0.8l-0.8,0.8m0.843,-0.8l-0.8,0.8m0.843,-0.8l-0.8,0.8m0.843,-0.8l-0.8,0.8m0.843,-0.8l-0.8,0.8M-1.8,-0.4l0.8,0.8m-0.757,-0.8l0.8,0.8m-0.757,-0.8l0.8,0.8m-0.757,-0.8l0.8,0.8m-0.757,-0.8l0.8,0.8m-0.757,-0.8l0.8,0.8m-0.757,-0.8l0.8,0.8m-0.757,-0.8l0.8,0.8m-0.757,-0.8l0.8,0.8m-0.757,-0.8l0.8,0.8m-0.757,-0.8l0.8,0.8m-0.757,-0.8l0.8,0.8m-0.757,-0.8l0.8,0.8m-0.757,-0.8l0.8,0.8m-0.757,-0.8l0.8,0.8m-0.757,-0.8l0.8,0.8m-0.757,-0.8l0.8,0.8m-0.757,-0.8l0.8,0.8m-0.757,-0.8l0.8,0.8m-0.757,-0.8l0.8,0.8m-0.757,-0.8l0.8,0.8m-0.757,-0.8l0.8,0.8m-0.757,-0.8l0.8,0.8m-0.757,-0.8l0.8,0.8m-0.757,-0.8l0.8,0.8m-0.757,-0.8l0.8,0.8m-0.757,-0.8l0.8,0.8m-0.757,-0.8l0.8,0.8m-0.757,-0.8l0.8,0.8m-0.757,-0.8l0.8,0.8m-0.757,-0.8l0.8,0.8m-0.757,-0.8l0.8,0.8m-0.757,-0.8l0.8,0.8m-0.757,-0.8l0.8,0.8m-0.757,-0.8l0.8,0.8m-0.757,-0.8l0.8,0.8m-0.757,-0.8l0.8,0.8m-0.757,-0.8l0.8,0.8m-0.757,-0.8l0.8,0.8m-0.757,-0.8l0.8,0.8m-0.757,-0.8l0.8,0.8m-0.757,-0.8l0.8,0.8m-0.757,-0.8l0.8,0.8m-0.757,-0.8l0.8,0.8m-0.757,-0.8l0.8,0.8m-0.757,-0.8l0.8,0.8m-0.757,-0.8l0.8,0.8m-0.757,-0.8l0.8,0.8m-0.757,-0.8l0.8,0.8m-0.757,-0.8l0.8,0.8m-0.757,-0.8l0.8,0.8m-0.757,-0.8l0.8,0.8m-0.757,-0.8l0.8,0.8m-0.757,-0.8l0.8,0.8m-0.757,-0.8l0.8,0.8m-0.757,-0.8l0.8,0.8m-0.757,-0.8l0.8,0.8m-0.757,-0.8l0.8,0.8m-0.757,-0.8l0.8,0.8m-0.757,-0.8l0.8,0.8m-0.757,-0.8l0.8,0.8m-0.757,-0.8l0.8,0.8m-0.757,-0.8l0.8,0.8m-0.757,-0.8l0.8,0.8m-0.757,-0.8l0.8,0.8m-0.757,-0.8l0.8,0.8"}}
}
}
